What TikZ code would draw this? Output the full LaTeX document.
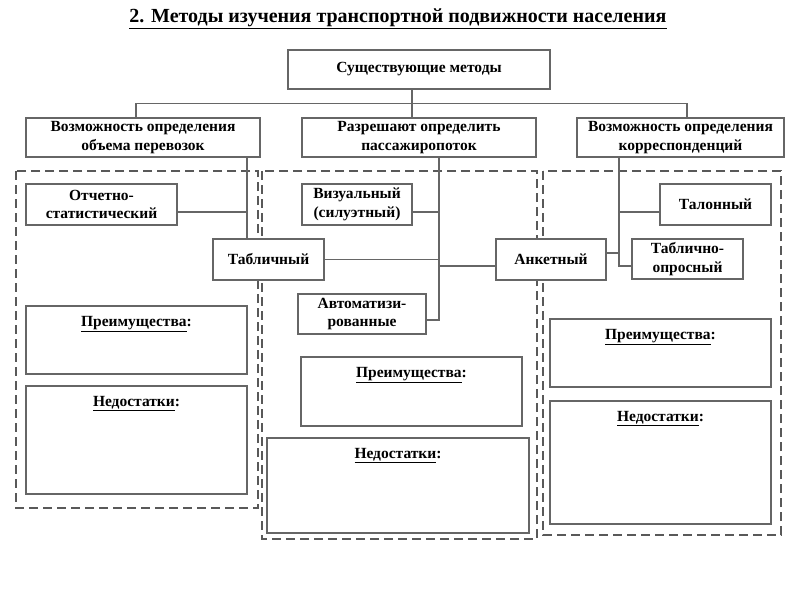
\documentclass[tikz,border=0pt]{standalone}
\usepackage{fontspec}
\setmainfont{Liberation Serif}
\usepackage{tikz}
\usetikzlibrary{calc}
\usetikzlibrary{positioning}

\tikzset{
  box/.style={draw=black!60, fill=white, line width=1.1pt, align=center, inner sep=1pt,
    font=\bfseries\fontsize{15.5}{18.5}\selectfont},
  frame/.style={draw=black!65, line width=1.1pt, dash pattern=on 9pt off 5pt},
  link/.style={draw=black!60, line width=1.1pt},
  notebox/.style={draw=black!60, line width=1.1pt,
    label={[anchor=north, yshift=-7pt, font=\bfseries\fontsize{15.5}{18.5}\selectfont]north:#1}}
}

\begin{document}
\begin{tikzpicture}[x=1pt, y=-1pt]
  \useasboundingbox (0,0) rectangle (800,600);

  \node (title) at (398,19) {\bfseries\fontsize{20}{23}\selectfont
    \underline{2. Методы изучения транспортной подвижности населения}};

  % dashed groups
  \draw [frame] (16,171) rectangle (258,508);
  \draw [frame] (262,171) rectangle (537,539);
  \draw [frame] (543,171) rectangle (781,535);

  % top levels
  \node [box, minimum width=262pt, minimum height=39pt] (top) at (419,69.5) {Существующие методы};
  \node [box, minimum width=234pt, minimum height=39pt] (vol) at (143,137.5)
    {Возможность определения\\объема перевозок};
  \node [box, minimum width=234pt, minimum height=39pt] (pass) at (419,137.5)
    {Разрешают определить\\пассажиропоток};
  \node [box, minimum width=207pt, minimum height=39pt] (corr) at (680.5,137.5)
    {Возможность определения\\корреспонденций};

  % methods
  \node [box, minimum width=151pt, minimum height=41pt] (stat) at (101.5,204.5)
    {Отчетно-\\статистический};
  \node [box, minimum width=111pt, minimum height=41pt] (tabl) at (268.5,259.5) {Табличный};
  \node [box, minimum width=110pt, minimum height=41pt] (vis) at (357,204.5)
    {Визуальный\\(силуэтный)};
  \node [box, minimum width=128pt, minimum height=40pt] (avto) at (362,314)
    {Автоматизи-\\рованные};
  \node [box, minimum width=110pt, minimum height=41pt] (anket) at (551,259.5) {Анкетный};
  \node [box, minimum width=111pt, minimum height=41pt] (talon) at (715.5,204.5) {Талонный};
  \node [box, minimum width=111pt, minimum height=40pt] (tablopr) at (687.5,259)
    {Таблично-\\опросный};

  % pros and cons
  \node [notebox={\underline{Преимущества}:}, minimum width=221pt, minimum height=68pt] (adv1) at (136.5,340) {};
  \node [notebox={\underline{Недостатки}:}, minimum width=221pt, minimum height=108pt] (dis1) at (136.5,440) {};
  \node [notebox={\underline{Преимущества}:}, minimum width=221pt, minimum height=69pt] (adv2) at (411.5,391.5) {};
  \node [notebox={\underline{Недостатки}:}, minimum width=262pt, minimum height=95pt] (dis2) at (398,485.5) {};
  \node [notebox={\underline{Преимущества}:}, minimum width=221pt, minimum height=68pt] (adv3) at (660.5,353) {};
  \node [notebox={\underline{Недостатки}:}, minimum width=221pt, minimum height=123pt] (dis3) at (660.5,462.5) {};

  % connectors
  \coordinate (jL) at (247,212);
  \coordinate (jM) at (439,212);
  \coordinate (jR) at (619,212);
  \draw [link] ([xshift=-7pt]top.south) -- ([xshift=-7pt]pass.north);
  \draw [link] ([xshift=-7pt]vol.north) -- ++(0,-14) -| ([xshift=6.5pt]corr.north);
  \draw [link] (vol.south -| jL) -- (tabl.north -| jL);
  \draw [link] (stat.east |- jL) -- (jL);
  \draw [link] (pass.south -| jM) |- ([yshift=-6pt]avto.east);
  \draw [link] (vis.east |- jM) -- (jM);
  \draw [link] (tabl.east) -- (tabl.east -| jM);
  \draw [link] ([yshift=-6.5pt]anket.west) -- ([yshift=-6.5pt]anket.west -| jM);
  \draw [link] ([yshift=6.5pt]anket.east) -- ([yshift=6.5pt]anket.east -| jR);
  \draw [link] (corr.south -| jR) |- ([yshift=-7pt]tablopr.west);
  \draw [link] (talon.west |- jR) -- (jR);
\end{tikzpicture}
\end{document}
